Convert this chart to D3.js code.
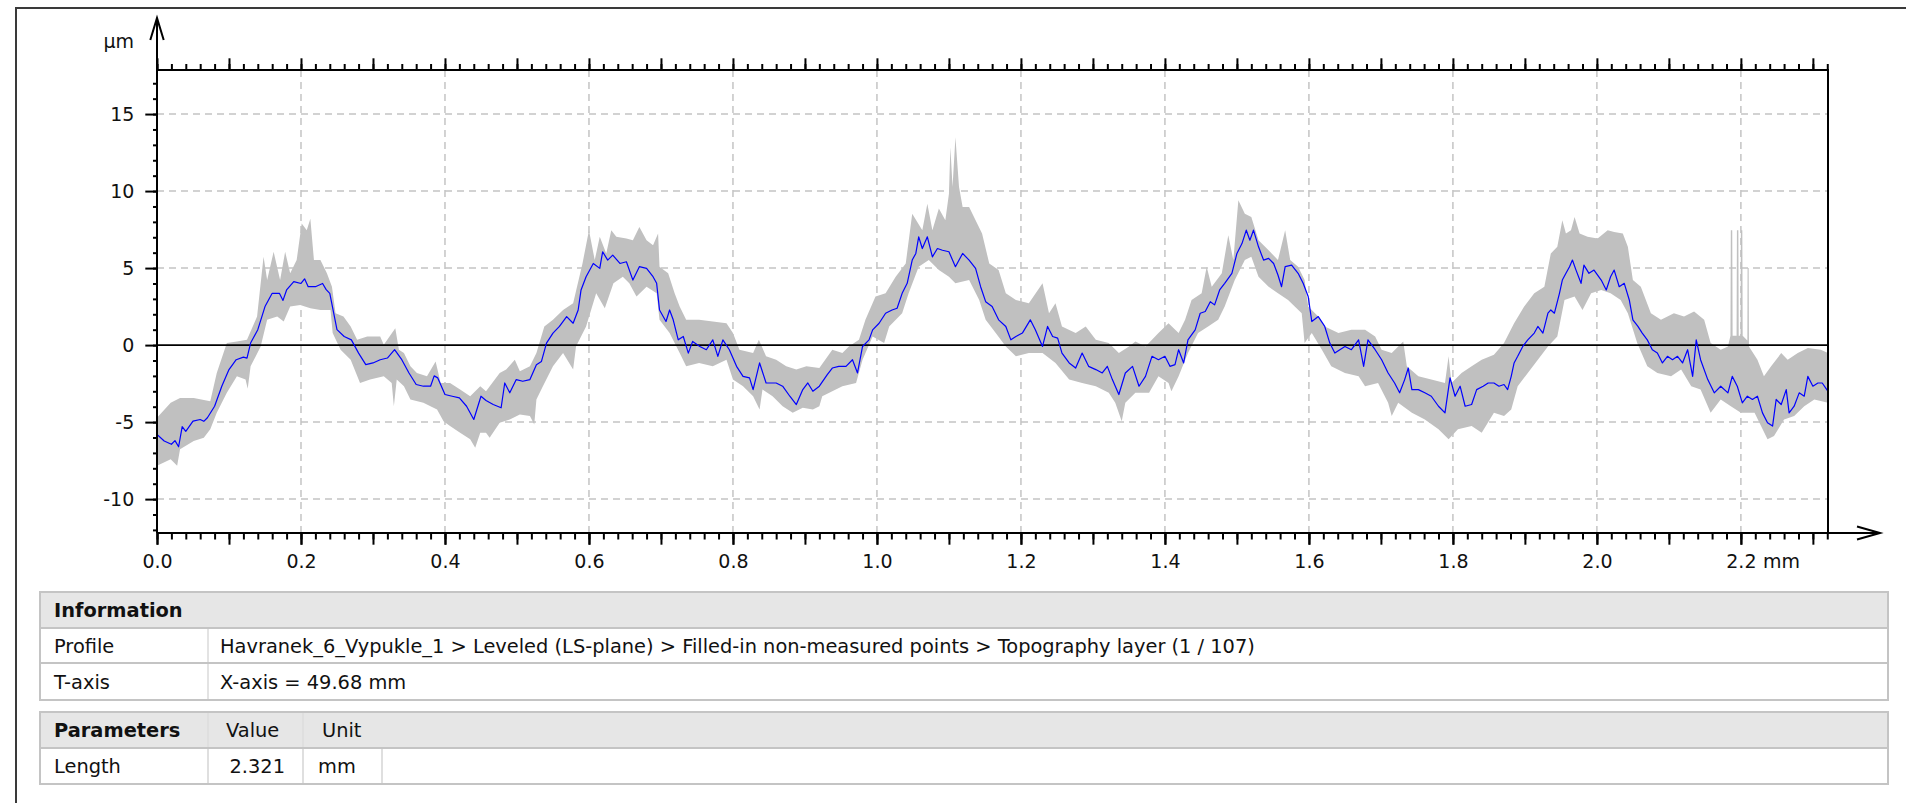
<!DOCTYPE html>
<html>
<head>
<meta charset="utf-8">
<script src="https://cdn.jsdelivr.net/npm/d3@7"></script>
<style>
  body { margin: 0; background: #fff; }
  svg text { font-family: "DejaVu Sans", Verdana, sans-serif; fill: #111; }
</style>
</head>
<body>
<svg id="chart" width="1906" height="803"></svg>
<script>
// profile mean line (mm, µm)
const meanProfile = [
  [0,-5.8],[0.01,-6.23],[0.02,-6.44],[0.025,-6.2],[0.03,-6.6],[0.035,-5.3],[0.04,-5.6],[0.05,-4.94],[0.06,-4.83],[0.065,-4.95],
  [0.07,-4.72],[0.08,-3.97],[0.09,-2.67],[0.1,-1.59],[0.11,-0.95],[0.12,-0.78],[0.125,-0.85],[0.13,0.13],[0.14,1.0],[0.15,2.5],
  [0.16,3.36],[0.17,3.36],[0.175,2.9],[0.18,3.58],[0.19,4.12],[0.2,4.0],[0.205,4.3],[0.21,3.79],[0.22,3.79],[0.23,4.0],
  [0.235,3.6],[0.24,3.36],[0.25,1.0],[0.26,0.56],[0.27,0.34],[0.28,-0.52],[0.29,-1.27],[0.3,-1.16],[0.31,-0.95],[0.32,-0.84],
  [0.33,-0.3],[0.34,-0.95],[0.35,-1.81],[0.36,-2.56],[0.37,-2.67],[0.38,-2.67],[0.385,-2.0],[0.39,-2.13],[0.4,-3.21],[0.41,-3.32],
  [0.42,-3.43],[0.43,-3.97],[0.44,-4.83],[0.45,-3.32],[0.457,-3.6],
  [0.467,-3.86],[0.478,-4.07],[0.483,-2.46],[0.49,-3.1],[0.499,-2.24],[0.508,-2.35],[0.518,-2.24],[0.527,-1.27],[0.534,-1.06],[0.541,0.13],
  [0.55,0.78],[0.559,1.21],[0.569,1.85],[0.578,1.42],[0.585,2.28],[0.589,3.58],[0.596,4.44],[0.606,5.3],[0.615,4.98],[0.619,6.06],
  [0.626,5.52],[0.633,5.84],[0.643,5.3],[0.652,5.41],[0.661,4.22],[0.67,5.09],[0.68,4.98],[0.689,4.44],[0.694,4.01],[0.698,2.28],
  [0.707,1.53],[0.712,2.28],[0.717,1.64],[0.724,0.34],[0.731,0.56],[0.738,-0.52],[0.744,0.24],[0.754,-0.09],[0.763,-0.3],[0.772,0.34],
  [0.779,-0.73],[0.786,0.34],[0.795,-0.3],[0.805,-1.38],[0.814,-2.03],[0.823,-2.13],[0.828,-2.89],[0.837,-1.16],[0.846,-2.46],[0.86,-2.46],
  [0.869,-2.67],[0.879,-3.32],[0.888,-3.86],[0.897,-2.89],[0.904,-2.46],[0.911,-3.0],[0.92,-2.67],
  [0.931,-1.92],[0.938,-1.49],[0.947,-1.38],[0.957,-1.38],[0.966,-0.95],[0.973,-1.81],[0.98,-0.09],[0.989,0.34],[0.994,0.99],[1.003,1.42],
  [1.012,2.07],[1.021,2.28],[1.028,2.39],[1.035,3.36],[1.042,4.01],[1.049,5.52],[1.054,5.95],[1.058,7.03],[1.063,6.27],[1.07,7.03],
  [1.077,5.73],[1.084,6.27],[1.091,6.16],[1.1,6.06],[1.109,5.09],[1.119,5.95],[1.128,5.52],[1.137,4.98],[1.144,3.79],[1.151,2.82],
  [1.16,2.5],[1.169,1.64],[1.179,1.21],[1.186,0.34],[1.193,0.56],[1.202,0.78],[1.213,1.64],[1.22,0.99],[1.23,-0.09],[1.237,1.21],
  [1.244,0.56],[1.251,0.45],[1.257,-0.52],[1.267,-1.16],[1.276,-1.49],[1.285,-0.52],[1.294,-1.38],[1.304,-1.59],[1.313,-1.81],[1.32,-1.38],
  [1.327,-2.24],[1.336,-3.21],[1.345,-1.81],[1.355,-1.38],[1.364,-2.67],[1.373,-2.03],[1.382,-0.73],[1.391,-0.95],
  [1.4,-0.73],[1.407,-1.38],[1.414,-1.27],[1.419,-0.3],[1.426,-1.16],[1.432,0.34],[1.442,0.99],[1.449,2.07],[1.456,2.18],[1.463,2.82],
  [1.469,2.61],[1.476,3.58],[1.483,4.01],[1.493,4.66],[1.5,5.95],[1.507,6.59],[1.513,7.46],[1.518,6.81],[1.523,7.46],[1.53,6.38],
  [1.537,5.52],[1.544,5.63],[1.551,5.3],[1.557,4.55],[1.562,3.79],[1.567,5.09],[1.576,5.19],[1.585,4.66],[1.592,4.01],[1.599,3.15],
  [1.604,1.53],[1.613,1.85],[1.622,1.21],[1.629,0.13],[1.636,-0.52],[1.643,-0.3],[1.65,-0.09],[1.659,-0.3],[1.669,0.34],[1.676,-1.38],
  [1.682,0.34],[1.692,-0.3],[1.701,-0.95],[1.71,-1.81],[1.719,-2.46],[1.726,-3.1],[1.733,-2.24],[1.738,-1.49],[1.743,-2.89],[1.752,-2.89],
  [1.761,-3.1],[1.77,-3.32],[1.78,-3.97],[1.789,-4.4],[1.796,-2.13],[1.803,-3.32],[1.81,-2.67],[1.817,-3.97],[1.826,-3.86],[1.833,-2.89],
  [1.842,-2.67],[1.849,-2.46],
  [1.857,-2.46],[1.864,-2.67],[1.871,-2.56],[1.876,-2.89],[1.881,-2.03],[1.885,-1.16],[1.89,-0.73],[1.897,-0.09],[1.904,0.34],[1.913,0.78],
  [1.918,1.21],[1.925,0.78],[1.932,2.07],[1.936,2.28],[1.941,2.07],[1.948,3.36],[1.952,4.22],[1.957,4.66],[1.962,5.09],[1.966,5.52],
  [1.971,4.87],[1.978,4.01],[1.982,5.19],[1.989,4.66],[1.996,4.87],[2.006,4.22],[2.013,3.58],[2.019,4.44],[2.024,4.87],[2.031,3.79],
  [2.038,4.01],[2.045,2.93],[2.05,1.64],[2.057,1.21],[2.063,0.78],[2.07,0.34],[2.077,-0.3],[2.084,-0.52],[2.091,-1.16],[2.098,-0.73],
  [2.105,-0.95],[2.112,-0.73],[2.119,-1.16],[2.126,-0.3],[2.133,-2.03],[2.138,0.34],[2.144,-0.95],[2.154,-2.24],[2.163,-3.1],[2.172,-2.67],
  [2.182,-3.1],[2.188,-2.03],[2.195,-2.67],[2.202,-3.75],[2.209,-3.32],[2.216,-3.53],[2.223,-3.32],[2.23,-4.4],[2.237,-5.04],[2.244,-5.26],
  [2.249,-3.53],[2.256,-3.86],[2.263,-2.89],[2.267,-4.4],[2.274,-3.97],[2.281,-3.1],[2.288,-3.32],[2.293,-2.03],[2.3,-2.67],[2.307,-2.46],
  [2.313,-2.46],[2.321,-3.0]
];

// upper edge of the grey band
const envelopeTop = [
  [0,-4.72],[0.019,-3.75],[0.032,-3.43],[0.051,-3.43],[0.074,-3.64],[0.083,-1.81],[0.097,0.13],[0.111,0.24],[0.125,0.34],[0.139,1.85],
  [0.148,5.73],[0.153,4.22],[0.162,6.06],[0.171,4.22],[0.178,6.06],[0.185,4.66],[0.194,5.52],[0.201,7.89],[0.208,7.46],[0.213,8.21],
  [0.218,5.52],[0.227,5.52],[0.236,4.66],[0.243,3.79],[0.248,2.07],[0.259,1.85],[0.269,1.21],[0.278,0.34],[0.292,0.56],[0.31,0.56],
  [0.315,0.02],[0.331,1.1],[0.336,-0.3],[0.343,-0.52],[0.352,-1.38],[0.361,-1.81],[0.375,-2.03],[0.387,-1.06],[0.394,-2.46],[0.407,-2.46],
  [0.421,-2.89],[0.435,-3.32],[0.449,-2.67],
  [0.457,-3.0],[0.476,-1.81],[0.485,-1.59],[0.497,-0.95],[0.504,-1.7],[0.518,-1.38],[0.527,-0.52],[0.538,1.21],[0.55,1.64],[0.564,2.28],
  [0.578,2.72],[0.591,5.3],[0.6,7.46],[0.608,5.52],[0.615,7.03],[0.624,5.95],[0.631,7.46],[0.638,7.03],[0.652,6.92],[0.661,6.81],
  [0.67,7.67],[0.68,6.81],[0.689,6.49],[0.696,7.24],[0.698,5.09],[0.71,4.66],[0.719,3.36],[0.726,2.5],[0.735,1.64],[0.753,1.64],
  [0.772,1.53],[0.791,1.42],[0.8,0.78],[0.809,-0.3],[0.828,-0.52],[0.836,0.34],[0.846,-0.73],[0.86,-0.95],[0.874,-1.38],[0.888,-1.59],
  [0.902,-1.38],[0.92,-1.49],
  [0.938,-0.3],[0.952,-0.52],[0.961,-0.09],[0.975,0.34],[0.984,1.64],[0.998,3.15],[1.012,3.36],[1.026,4.44],[1.04,5.3],[1.049,8.53],
  [1.063,7.46],[1.07,9.18],[1.077,7.46],[1.086,8.86],[1.095,8.1],[1.1,9.83],[1.102,12.84],[1.105,10.26],[1.109,13.49],[1.114,10.26],
  [1.119,8.97],[1.128,8.97],[1.137,8.1],[1.146,7.24],[1.156,5.3],[1.169,4.87],[1.179,3.36],[1.193,2.93],[1.211,2.72],[1.23,4.01],
  [1.239,2.07],[1.248,2.72],[1.257,1.21],[1.276,0.78],[1.29,1.21],[1.304,0.34],[1.322,0.13],[1.336,-0.52],[1.35,-0.09],[1.359,0.24],
  [1.373,-0.09],[1.391,0.78],
  [1.405,1.42],[1.419,0.78],[1.428,1.64],[1.437,2.93],[1.451,3.36],[1.458,5.09],[1.465,3.79],[1.479,4.66],[1.488,7.13],[1.495,5.52],
  [1.502,9.4],[1.511,8.53],[1.52,8.32],[1.53,6.81],[1.544,6.16],[1.557,5.52],[1.567,7.46],[1.574,5.52],[1.585,5.09],[1.594,4.22],
  [1.599,2.5],[1.613,1.85],[1.622,1.21],[1.641,0.78],[1.659,0.99],[1.678,0.99],[1.692,0.56],[1.701,-0.3],[1.715,-0.52],[1.731,0.24],
  [1.736,-1.38],[1.752,-2.03],[1.77,-2.24],[1.789,-2.46],[1.794,-0.73],[1.798,-2.46],[1.812,-1.81],[1.826,-1.38],[1.84,-0.95],
  [1.857,-0.63],[1.871,0.13],[1.885,1.42],[1.899,2.5],[1.913,3.36],[1.927,3.79],[1.936,5.95],[1.945,6.38],[1.952,8.1],[1.957,7.24],
  [1.964,7.46],[1.969,8.32],[1.976,7.24],[1.987,7.03],[2.001,6.92],[2.015,7.46],[2.024,7.35],[2.036,7.24],[2.043,6.38],[2.05,4.22],
  [2.061,3.79],[2.075,2.07],[2.089,1.64],[2.107,2.07],[2.121,1.85],[2.135,2.18],[2.149,1.64],[2.158,0.13],[2.172,-0.3],[2.182,-0.09],
  [2.1855,0.6],[2.186,7.46],[2.188,7.46],[2.1885,0.6],[2.194,0.6],[2.1945,7.46],[2.1965,7.46],[2.197,0.6],[2.1995,0.6],[2.2,7.46],
  [2.202,7.46],[2.2025,0.6],[2.209,0.3],[2.2093,5.0],[2.2108,5.0],[2.2112,-0.09],[2.223,-0.95],[2.232,-2.03],[2.242,-1.38],[2.256,-0.52],
  [2.265,-0.95],[2.279,-0.52],[2.293,-0.19],[2.311,-0.3],[2.321,-0.52]
];

// lower edge of the grey band
const envelopeBottom = [
  [0,-7.84],[0.019,-7.41],[0.028,-7.84],[0.032,-6.77],[0.051,-6.23],[0.065,-6.01],[0.074,-5.47],[0.083,-4.4],[0.097,-3.1],[0.111,-2.03],
  [0.123,-2.24],[0.126,-2.84],[0.13,-1.38],[0.144,-0.09],[0.153,1.64],[0.167,1.85],[0.176,1.53],[0.185,2.5],[0.199,2.61],[0.213,2.39],
  [0.227,2.28],[0.241,2.28],[0.244,0.78],[0.255,-0.3],[0.269,-0.95],[0.282,-2.46],[0.296,-2.24],[0.315,-2.03],[0.326,-2.46],[0.329,-3.97],
  [0.333,-2.24],[0.343,-2.67],[0.352,-3.53],[0.37,-3.75],[0.389,-4.18],[0.398,-4.94],[0.407,-5.26],[0.421,-5.69],[0.435,-6.12],[0.442,-6.66],
  [0.449,-5.69],
  [0.457,-5.69],[0.462,-6.01],[0.476,-5.04],[0.49,-4.83],[0.504,-4.5],[0.518,-4.61],[0.524,-5.15],[0.527,-3.53],[0.536,-2.67],[0.55,-1.38],
  [0.564,-0.52],[0.578,-1.59],[0.582,-0.09],[0.596,1.21],[0.61,3.36],[0.622,2.39],[0.634,4.01],[0.647,4.44],[0.656,4.01],[0.666,3.15],
  [0.68,3.79],[0.694,3.36],[0.698,1.64],[0.712,0.78],[0.726,-0.52],[0.735,-1.38],[0.753,-1.16],[0.772,-1.38],[0.791,-0.95],[0.8,-2.24],
  [0.814,-2.67],[0.828,-3.32],[0.837,-4.18],[0.841,-2.89],[0.855,-3.32],[0.869,-3.97],[0.883,-4.4],[0.897,-4.07],[0.911,-4.18],[0.92,-3.97],
  [0.924,-3.32],[0.938,-3.0],[0.952,-2.67],[0.971,-2.46],[0.98,-0.95],[0.994,0.56],[1.01,0.13],[1.017,1.21],[1.035,2.07],[1.044,3.36],
  [1.058,5.09],[1.072,5.52],[1.086,4.87],[1.1,4.44],[1.109,4.01],[1.128,4.22],[1.142,2.93],[1.151,1.64],[1.165,0.78],[1.179,-0.09],
  [1.193,-0.73],[1.211,-0.52],[1.23,-0.52],[1.248,-1.16],[1.267,-2.24],[1.285,-2.46],[1.304,-2.67],[1.322,-3.1],[1.331,-3.75],[1.34,-4.94],
  [1.345,-3.75],[1.359,-3.1],[1.378,-3.1],
  [1.391,-2.03],[1.405,-2.46],[1.409,-3.0],[1.419,-2.03],[1.432,-0.52],[1.446,0.78],[1.46,1.21],[1.474,1.64],[1.483,2.5],[1.497,4.22],
  [1.511,5.52],[1.52,5.73],[1.53,4.44],[1.544,3.79],[1.557,3.36],[1.571,2.93],[1.59,2.07],[1.594,0.13],[1.604,0.78],[1.618,-0.3],
  [1.631,-1.38],[1.65,-1.81],[1.669,-2.03],[1.678,-2.67],[1.696,-2.46],[1.71,-3.75],[1.715,-4.61],[1.724,-3.75],[1.743,-4.4],[1.761,-4.83],
  [1.78,-5.47],[1.794,-6.12],[1.807,-5.47],[1.826,-5.26],[1.84,-5.69],
  [1.857,-4.4],[1.871,-4.61],[1.881,-4.18],[1.89,-2.67],[1.904,-1.81],[1.918,-0.95],[1.932,-0.09],[1.945,0.56],[1.955,2.93],[1.969,3.15],
  [1.98,2.28],[1.992,3.36],[2.006,3.58],[2.019,3.36],[2.033,2.93],[2.043,2.07],[2.056,0.13],[2.07,-1.38],[2.084,-1.81],[2.103,-2.03],
  [2.117,-1.59],[2.131,-2.67],[2.144,-2.89],[2.158,-4.4],[2.172,-3.53],[2.186,-3.97],[2.2,-4.4],[2.219,-4.4],[2.228,-5.26],[2.237,-6.12],
  [2.246,-5.91],[2.26,-4.83],[2.274,-4.61],[2.288,-3.97],[2.302,-3.53],[2.321,-3.75]
];

const xLabelValues = [0, 0.2, 0.4, 0.6, 0.8, 1.0, 1.2, 1.4, 1.6, 1.8, 2.0, 2.2];
const xTickLabels = ["0.0", "0.2", "0.4", "0.6", "0.8", "1.0", "1.2", "1.4", "1.6", "1.8", "2.0", "2.2"];
const yLabelValues = [-10, -5, 0, 5, 10, 15];
const yTickLabels = ["-10", "-5", "0", "5", "10", "15"];
const xUnit = "mm";
const yUnit = "µm";

const infoTitle = "Information";
const infoRows = [
  ["Profile", "Havranek_6_Vypukle_1 > Leveled (LS-plane) > Filled-in non-measured points > Topography layer (1 / 107)"],
  ["T-axis", "X-axis = 49.68 mm"]
];
const paramHeader = ["Parameters", "Value", "Unit"];
const paramRows = [["Length", "2.321", "mm"]];

const svg = d3.select("#chart");
const plot = { left: 157, right: 1828, top: 70, bottom: 533 };

const x = d3.scaleLinear().domain([0, 2.321]).range([plot.left, plot.right]);
const y = d3.scaleLinear().domain([-12.2, 17.86]).range([plot.bottom, plot.top]);

// outer window frame
svg.append("path")
  .attr("d", "M16,803 L16,8 L1906,8")
  .attr("fill", "none").attr("stroke", "#3a3a3a").attr("stroke-width", 2);

// grid
const grid = svg.append("g").attr("stroke", "#c4c4c4").attr("stroke-width", 1.5).attr("stroke-dasharray", "7,5");
grid.selectAll("line.v").data(xLabelValues.filter(d => d > 0)).join("line")
  .attr("x1", d => x(d)).attr("x2", d => x(d)).attr("y1", plot.top).attr("y2", plot.bottom);
grid.selectAll("line.h").data(yLabelValues.filter(d => d !== 0)).join("line")
  .attr("x1", plot.left).attr("x2", plot.right).attr("y1", d => y(d)).attr("y2", d => y(d));

svg.append("clipPath").attr("id", "clip").append("rect")
  .attr("x", plot.left).attr("y", plot.top)
  .attr("width", plot.right - plot.left).attr("height", plot.bottom - plot.top);

const data = svg.append("g").attr("clip-path", "url(#clip)");
const band = envelopeTop.concat(envelopeBottom.slice().reverse());
data.append("path")
  .attr("d", d3.line().x(d => x(d[0])).y(d => y(d[1]))(band) + "Z")
  .attr("fill", "#c0c0c0");

data.append("line")
  .attr("x1", plot.left).attr("x2", plot.right).attr("y1", y(0)).attr("y2", y(0))
  .attr("stroke", "#000").attr("stroke-width", 1.6);

data.append("path")
  .datum(meanProfile)
  .attr("d", d3.line().x(d => x(d[0])).y(d => y(d[1])))
  .attr("fill", "none").attr("stroke", "#0000ff").attr("stroke-width", 1.2)
  .attr("stroke-linejoin", "round");

// axes
function styleAxis(g) {
  g.select(".domain").remove();
  g.selectAll(".tick line").attr("stroke", "#000").attr("stroke-width", 2);
  g.selectAll("text").style("font-size", "19px").style("fill", "#111");
}

const xMajor = d3.range(0, 2.321, 0.1);
const xMinor = d3.range(0, 2.321, 0.02);
const yMinor = d3.range(-12, 18, 1);

svg.append("g").attr("transform", `translate(0,${plot.bottom})`)
  .call(d3.axisBottom(x).tickValues(xMinor).tickSize(6.5).tickFormat("")).call(styleAxis);
svg.append("g").attr("transform", `translate(0,${plot.bottom})`)
  .call(d3.axisBottom(x).tickValues(xMajor).tickSize(11.7).tickFormat("")).call(styleAxis);
svg.append("g").attr("transform", `translate(0,${plot.bottom})`)
  .call(d3.axisBottom(x).tickValues(xLabelValues).tickSize(11.7).tickPadding(10)
    .tickFormat((d, i) => xTickLabels[i])).call(styleAxis);

svg.append("g").attr("transform", `translate(0,${plot.top})`)
  .call(d3.axisTop(x).tickValues(xMinor).tickSize(6).tickFormat("")).call(styleAxis);
svg.append("g").attr("transform", `translate(0,${plot.top})`)
  .call(d3.axisTop(x).tickValues(xMajor).tickSize(11.7).tickFormat("")).call(styleAxis);

svg.append("g").attr("transform", `translate(${plot.left},0)`)
  .call(d3.axisLeft(y).tickValues(yMinor).tickSize(4).tickFormat("")).call(styleAxis);
svg.append("g").attr("transform", `translate(${plot.left},0)`)
  .call(d3.axisLeft(y).tickValues(yLabelValues).tickSize(11.7).tickPadding(11)
    .tickFormat((d, i) => yTickLabels[i])).call(styleAxis);

// unit labels
svg.append("text").attr("x", x(2.2) + 22).attr("y", plot.bottom + 35)
  .style("font-size", "19px").text(xUnit);
svg.append("text").attr("x", 134).attr("y", 48).attr("text-anchor", "end")
  .style("font-size", "19px").text(yUnit);

// frame + arrowed axis lines
const frame = svg.append("g").attr("fill", "none").attr("stroke", "#000").attr("stroke-width", 2);
frame.append("path").attr("d", `M${plot.left},${plot.top} L${plot.right},${plot.top} L${plot.right},${plot.bottom}`);
frame.append("path").attr("d", `M${plot.left},${plot.bottom} L1880,${plot.bottom}`);
frame.append("path").attr("d", `M1857,${plot.bottom - 6.5} L1880,${plot.bottom} L1857,${plot.bottom + 6.5}`);
frame.append("path").attr("d", `M${plot.left},${plot.bottom} L${plot.left},18`);
frame.append("path").attr("d", `M${plot.left - 6.7},40 L${plot.left},18 L${plot.left + 6.7},40`);

// information / parameter tables
const tbl = { left: 40, right: 1888, col1: 208 };
const border = "#c4c4c4";
const table = svg.append("g");

function rowRect(y0, y1, fill) {
  table.append("rect").attr("x", tbl.left).attr("y", y0)
    .attr("width", tbl.right - tbl.left).attr("height", y1 - y0)
    .attr("fill", fill).attr("stroke", border).attr("stroke-width", 2);
}
function vLine(xp, y0, y1, color) {
  table.append("line").attr("x1", xp).attr("x2", xp).attr("y1", y0 + 1).attr("y2", y1 - 1)
    .attr("stroke", color).attr("stroke-width", 1.5);
}
function cellText(xp, y0, y1, txt, bold, anchor) {
  table.append("text").attr("x", xp).attr("y", (y0 + y1) / 2 + 7)
    .attr("text-anchor", anchor || "start")
    .style("font-size", "19.4px").style("font-weight", bold ? "bold" : "normal")
    .text(txt);
}

const infoY = [592, 628, 663, 700];
rowRect(infoY[0], infoY[1], "#e6e6e6");
cellText(54, infoY[0], infoY[1], infoTitle, true);
infoRows.forEach((r, i) => {
  const y0 = infoY[i + 1], y1 = infoY[i + 2];
  rowRect(y0, y1, "#fff");
  vLine(tbl.col1, y0, y1, "#dadada");
  cellText(54, y0, y1, r[0]);
  cellText(220, y0, y1, r[1]);
});

const paramY = [712, 748, 784];
const paramCols = [tbl.col1, 303, 382];
rowRect(paramY[0], paramY[1], "#e6e6e6");
paramCols.slice(0, 2).forEach(c => vLine(c, paramY[0], paramY[1], "#dcdcdc"));
cellText(54, paramY[0], paramY[1], paramHeader[0], true);
cellText(226, paramY[0], paramY[1], paramHeader[1]);
cellText(322, paramY[0], paramY[1], paramHeader[2]);
paramRows.forEach((r, i) => {
  const y0 = paramY[i + 1], y1 = paramY[i + 2];
  rowRect(y0, y1, "#fff");
  paramCols.forEach(c => vLine(c, y0, y1, "#d4d4d4"));
  cellText(54, y0, y1, r[0]);
  cellText(285, y0, y1, r[1], false, "end");
  cellText(318, y0, y1, r[2]);
});
</script>
</body>
</html>
